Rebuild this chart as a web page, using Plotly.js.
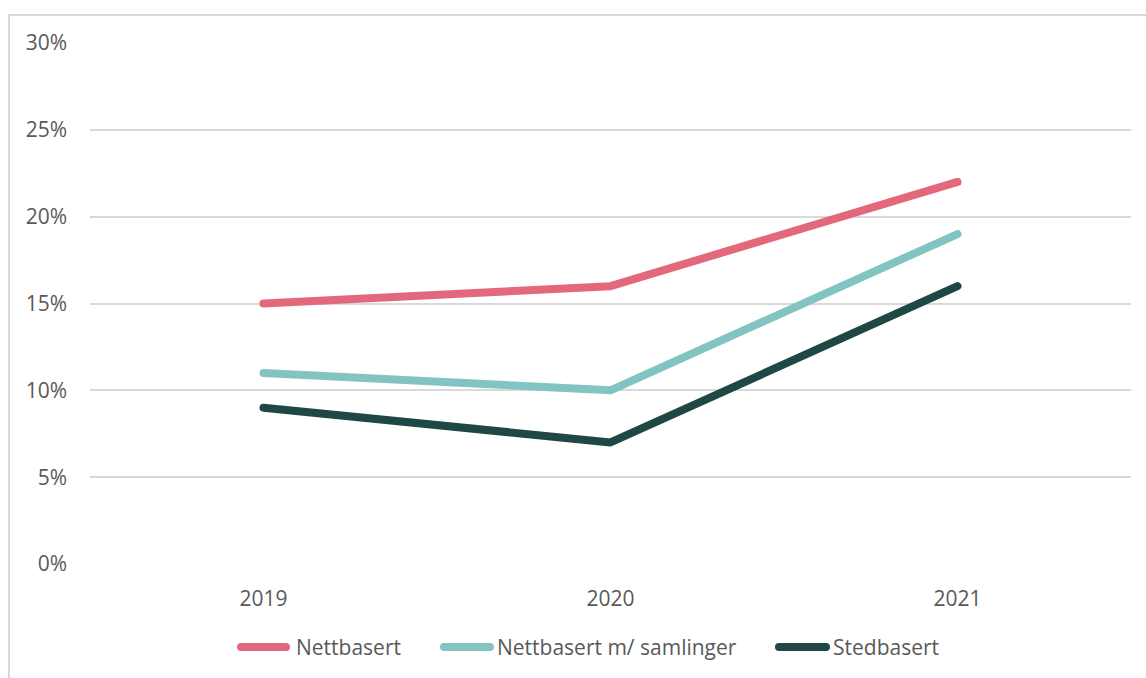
<!DOCTYPE html>
<html>
<head>
<meta charset="utf-8">
<script src="https://cdn.plot.ly/plotly-3.0.1.min.js"></script>
<style>
html,body{margin:0;padding:0;background:#fff;overflow:hidden;}
#chart{width:1146px;height:678px;position:relative;}
#frame{position:absolute;left:8px;top:14px;width:1200px;height:700px;border:2px solid #d9d9d9;pointer-events:none;box-sizing:border-box;}
.scatterlayer path.js-line, .shapelayer path{stroke-linecap:round !important;stroke-linejoin:round !important;}
</style>
</head>
<body>
<div id="chart"></div>
<div id="frame"></div>
<script>
const years = ['2019', '2020', '2021'];
const seriesNames = ['Nettbasert', 'Nettbasert m/ samlinger', 'Stedbasert'];
const nettbasert = [0.15, 0.16, 0.22];
const nettbasertSamlinger = [0.11, 0.10, 0.19];
const stedbasert = [0.09, 0.07, 0.16];
const yTicks = [0, 0.05, 0.10, 0.15, 0.20, 0.25, 0.30];

const colors = ['#E4687B', '#82C4C1', '#1F4745'];
const values = [nettbasert, nettbasertSamlinger, stedbasert];

const traces = values.map((v, i) => ({
  type: 'scatter',
  mode: 'lines',
  x: years,
  y: v,
  name: seriesNames[i],
  line: {color: colors[i], width: 8},
  hoverinfo: 'x+y+name'
}));

const font = {family: '"Open Sans", sans-serif', size: 21, color: '#595959'};

// legend layout (pixel positions converted to paper coords)
const L = 90, W = 1041, B = 564, H = 521;
const px = p => (p - L) / W;
const py = p => (B - p) / H;
const legendY = 647;
const legendSlots = [[241, 286, 296], [444, 490, 497], [779, 826, 833]];

const shapes = legendSlots.map((s, i) => ({
  type: 'line', xref: 'paper', yref: 'paper',
  x0: px(s[0]), x1: px(s[1]), y0: py(legendY), y1: py(legendY),
  line: {color: colors[i], width: 8}
}));
const annotations = legendSlots.map((s, i) => ({
  xref: 'paper', yref: 'paper',
  x: px(s[2]), y: py(legendY),
  xanchor: 'left', yanchor: 'middle',
  text: seriesNames[i], showarrow: false,
  font: font, xshift: -2
}));

const layout = {
  width: 1146,
  height: 678,
  margin: {l: 90, r: 15, t: 43, b: 114},
  paper_bgcolor: '#fff',
  plot_bgcolor: '#fff',
  font: font,
  showlegend: false,
  shapes: shapes,
  annotations: annotations,
  xaxis: {
    type: 'category',
    range: [-0.5, 2.5],
    showgrid: false,
    zeroline: false,
    showline: false,
    ticks: '',
    ticklabelstandoff: 20,
    tickfont: font
  },
  yaxis: {
    range: [0, 0.30],
    tickvals: yTicks,
    tickformat: '.0%',
    showgrid: true,
    gridcolor: '#d9d9d9',
    gridwidth: 1.5,
    zeroline: false,
    showline: false,
    ticks: '',
    ticklabelstandoff: 22,
    tickfont: font
  }
};

Plotly.newPlot('chart', traces, layout, {displayModeBar: false, responsive: false});
</script>
</body>
</html>
